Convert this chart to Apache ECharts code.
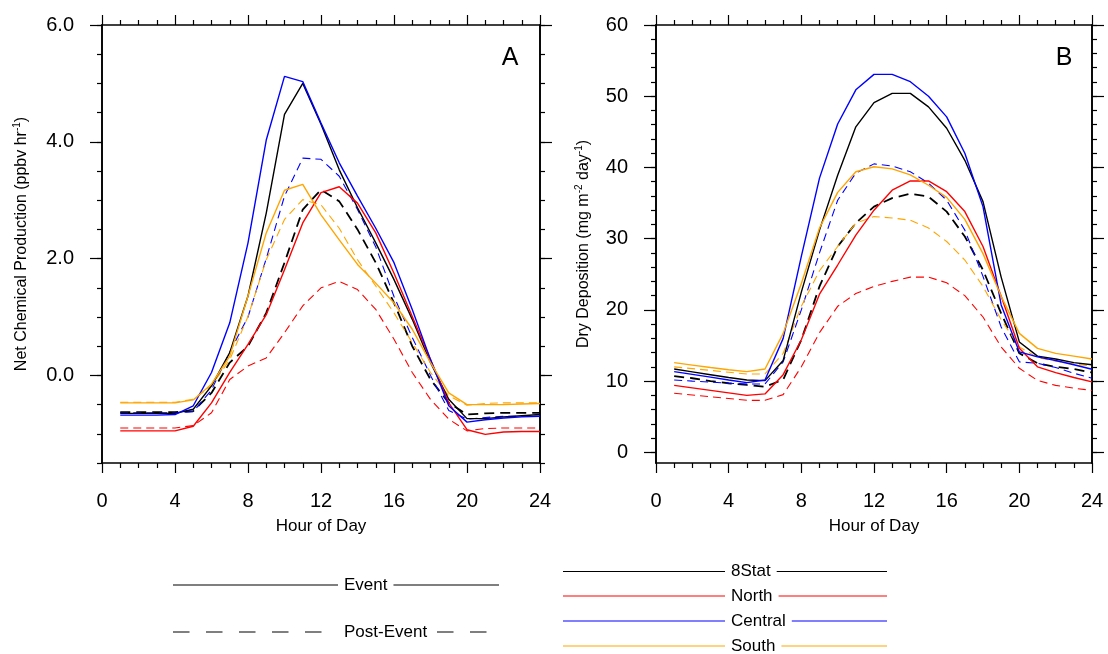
<!DOCTYPE html>
<html>
<head>
<meta charset="utf-8">
<script src="https://cdn.jsdelivr.net/npm/echarts@6/dist/echarts.min.js"></script>
<style>
html,body{margin:0;padding:0;background:#fff;}
#chart{width:1108px;height:654px;}
</style>
</head>
<body>
<div id="chart"></div>
<script>
// ---------------- DATA ----------------
const hours = [1,2,3,4,5,6,7,8,9,10,11,12,13,14,15,16,17,18,19,20,21,22,23,24];

// Panel A: Net Chemical Production (ppbv hr-1)
const a_8stat_event   = [-0.65,-0.65,-0.65,-0.65,-0.58,-0.18,0.39,1.36,2.78,4.47,5.00,4.30,3.52,2.87,2.27,1.64,0.96,0.22,-0.41,-0.74,-0.74,-0.71,-0.69,-0.67];
const a_north_event   = [-0.95,-0.95,-0.95,-0.95,-0.87,-0.47,0.05,0.53,1.04,1.81,2.61,3.13,3.23,2.95,2.44,1.75,1.01,0.27,-0.47,-0.93,-1.01,-0.97,-0.96,-0.96];
const a_central_event = [-0.68,-0.68,-0.68,-0.67,-0.52,0.05,0.90,2.27,4.03,5.12,5.03,4.32,3.64,3.07,2.52,1.93,1.13,0.27,-0.52,-0.80,-0.76,-0.73,-0.71,-0.70];
const a_south_event   = [-0.47,-0.47,-0.47,-0.47,-0.42,-0.15,0.33,1.36,2.44,3.17,3.27,2.75,2.32,1.90,1.58,1.24,0.79,0.22,-0.30,-0.50,-0.50,-0.50,-0.49,-0.48];
const a_8stat_post    = [-0.63,-0.63,-0.63,-0.63,-0.61,-0.30,0.22,0.50,1.07,1.93,2.84,3.18,2.98,2.50,1.93,1.24,0.50,-0.07,-0.47,-0.67,-0.65,-0.64,-0.64,-0.64];
const a_north_post    = [-0.90,-0.90,-0.90,-0.90,-0.86,-0.64,-0.07,0.16,0.30,0.73,1.19,1.50,1.61,1.47,1.13,0.62,0.05,-0.41,-0.75,-0.95,-0.91,-0.90,-0.90,-0.90];
const a_central_post  = [-0.64,-0.64,-0.64,-0.64,-0.62,-0.25,0.40,1.00,2.00,3.07,3.72,3.70,3.41,2.84,2.20,1.35,0.65,0.00,-0.60,-0.75,-0.72,-0.70,-0.70,-0.70];
const a_south_post    = [-0.46,-0.46,-0.46,-0.46,-0.41,-0.18,0.27,1.01,1.98,2.67,3.01,2.92,2.52,1.98,1.53,1.07,0.56,0.05,-0.35,-0.51,-0.48,-0.47,-0.47,-0.47];

// Panel B: Dry Deposition (mg m-2 day-1)
const b_8stat_event   = [11.7,11.3,10.9,10.5,10.16,10.07,12.9,22.5,31.2,38.9,45.7,49.1,50.4,50.4,48.5,45.5,41.0,35.2,24.6,15.5,13.5,13.1,12.6,12.3];
const b_north_event   = [9.4,9.05,8.7,8.35,8.0,8.2,10.9,15.8,22.2,26.3,30.5,34.0,36.8,38.1,38.1,36.6,33.8,28.9,21.9,14.6,12.0,11.2,10.5,9.9];
const b_central_event = [11.33,10.95,10.55,10.15,9.79,10.16,16.0,27.5,38.5,46.1,50.9,53.07,53.07,52.04,50.0,47.1,42.0,34.5,20.7,14.1,13.4,12.9,12.3,11.66];
const b_south_event   = [12.6,12.25,11.9,11.6,11.33,11.7,16.7,23.7,31.5,36.5,39.4,40.1,39.8,38.95,37.5,35.8,32.7,27.9,21.9,16.7,14.6,13.9,13.5,13.1];
const b_8stat_post    = [10.7,10.4,10.0,9.7,9.46,9.2,10.2,15.8,23.3,28.9,32.2,34.5,35.7,36.3,35.9,33.8,30.3,25.6,19.5,13.9,12.5,12.0,11.7,11.2];
const b_north_post    = [8.3,8.05,7.8,7.55,7.3,7.3,8.1,12.0,16.8,20.5,22.3,23.3,24.0,24.6,24.6,23.8,22.0,19.0,14.8,11.8,10.1,9.4,9.0,8.7];
const b_central_post  = [10.16,10.0,9.85,9.7,9.6,9.6,12.7,20.0,28.0,35.4,39.2,40.5,40.2,39.4,37.8,35.4,31.2,24.7,17.6,12.7,12.5,11.9,11.1,10.4];
const b_south_post    = [12.0,11.75,11.5,11.25,11.0,11.0,13.9,20.5,25.5,28.9,32.2,33.1,32.9,32.6,31.5,29.6,27.0,23.3,18.6,14.8,13.3,12.8,12.4,12.1];

// Tick values / labels
const xTicks = [0,4,8,12,16,20,24];
const aMajorTicks = [0,2,4,6];
const aMinorTicks = [-1.5,-1,-0.5,0,0.5,1,1.5,2,2.5,3,3.5,4,4.5,5,5.5,6];
const bMajorTicks = [0,10,20,30,40,50,60];
const bMinorTicks = [0,2,4,6,8,10,12,14,16,18,20,22,24,26,28,30,32,34,36,38,40,42,44,46,48,50,52,54,56,58,60];

const regions = ['8Stat','North','Central','South'];
const regionColors = ['#000000','#ff0000','#0000ff','#ffa500'];
const periods = ['Event','Post-Event'];

// ---------------- CHART ----------------
const FONT = 'Liberation Sans';
const chart = echarts.init(document.getElementById('chart'), null, {renderer:'canvas'});

function pairs(vals){ return hours.map((h,i)=>[h, vals[i]]); }

function xAx(grid, pos, withLabel){
  return {
    gridIndex: grid, type:'value', min:0, max:24, interval:4, position:pos,
    axisLine:{show:true, onZero:false, lineStyle:{color:'#000', width:1.6}},
    axisTick:{show:true, inside:false, length:10, lineStyle:{color:'#000', width:1.2}},
    minorTick:{show:true, splitNumber:4, length:5, lineStyle:{color:'#000', width:1.2}},
    axisLabel:{show:withLabel, fontSize:20, color:'#000', margin:28, fontFamily:FONT},
    splitLine:{show:false}, minorSplitLine:{show:false},
    name: withLabel ? 'Hour of Day' : '', nameLocation:'middle', nameGap:55,
    nameTextStyle:{fontSize:17, color:'#000', fontFamily:FONT}
  };
}
function yAx(grid, pos, min, max, ticks, len, labelVals, fmt, name, nameGap){
  const o = {
    gridIndex: grid, type:'value', min:min, max:max, position:pos,
    axisLine:{show:true, onZero:false, lineStyle:{color:'#000', width:1.6}},
    axisTick:{show:true, inside:false, length:len, customValues:ticks, lineStyle:{color:'#000', width:1.2}},
    axisLabel:{show:!!labelVals, fontSize:20, color:'#000', margin:28, fontFamily:FONT,
               formatter: fmt || (v=>v)},
    splitLine:{show:false}
  };
  if (labelVals) o.axisLabel.customValues = labelVals;
  if (name) {
    o.name = name; o.nameLocation='middle'; o.nameGap=nameGap; o.nameRotate=90;
    o.nameTextStyle = {fontSize:16, color:'#000', fontFamily:FONT, lineHeight:20,
      rich:{sup:{fontSize:10, fontFamily:FONT, color:'#000', verticalAlign:'top', lineHeight:12}}};
  }
  return o;
}

const fmtA = v => Number(v).toFixed(1);
const fmtB = v => String(Math.round(v));

const xAxis = [
  xAx(0,'bottom',true), xAx(0,'top',false),
  xAx(1,'bottom',true), xAx(1,'top',false)
];
const yAxis = [
  yAx(0,'left',-1.5,6,aMajorTicks,12,aMajorTicks,fmtA,'Net Chemical Production (ppbv hr{sup|-1})',70),
  yAx(0,'left',-1.5,6,aMinorTicks,5,null),
  yAx(0,'right',-1.5,6,aMajorTicks,12,null),
  yAx(0,'right',-1.5,6,aMinorTicks,5,null),
  yAx(1,'left',-1.5,60,bMajorTicks,12,bMajorTicks,fmtB,'Dry Deposition (mg m{sup|-2} day{sup|-1})',62),
  yAx(1,'left',-1.5,60,bMinorTicks,5,null),
  yAx(1,'right',-1.5,60,bMajorTicks,12,null),
  yAx(1,'right',-1.5,60,bMinorTicks,5,null)
];

function mkSeries(name, vals, colorIdx, dashed, xi, yi){
  const isBlack = colorIdx === 0;
  return {
    name:name, type:'line', xAxisIndex:xi, yAxisIndex:yi, data:pairs(vals),
    showSymbol:false, symbol:'none', silent:true, animation:false,
    lineStyle:{color:regionColors[colorIdx], width: dashed ? (isBlack?1.8:1.1) : 1.4,
               type: dashed ? (isBlack ? [10,6] : [8,5]) : 'solid'},
    z: dashed ? 3 : 4
  };
}

const aEvent = [a_8stat_event,a_north_event,a_central_event,a_south_event];
const aPost  = [a_8stat_post,a_north_post,a_central_post,a_south_post];
const bEvent = [b_8stat_event,b_north_event,b_central_event,b_south_event];
const bPost  = [b_8stat_post,b_north_post,b_central_post,b_south_post];

const series = [];
regions.forEach((r,i)=>{
  series.push(mkSeries('A '+r+' '+periods[1], aPost[i], i, true, 0, 0));
  series.push(mkSeries('B '+r+' '+periods[1], bPost[i], i, true, 2, 4));
});
regions.forEach((r,i)=>{
  series.push(mkSeries('A '+r+' '+periods[0], aEvent[i], i, false, 0, 0));
  series.push(mkSeries('B '+r+' '+periods[0], bEvent[i], i, false, 2, 4));
});

// Custom legend (NCL style)
const graphic = [];
function legText(t, x, y){
  return {type:'text', x:x, y:y, z:20,
    style:{text:t, fill:'#000', fontSize:17, fontFamily:FONT, align:'left', verticalAlign:'middle',
           backgroundColor:'#fff', padding:[0,6,0,6]}};
}
graphic.push({type:'line', z:10, shape:{x1:173,y1:585,x2:499,y2:585}, style:{stroke:'#7f7f7f', lineWidth:2}});
graphic.push(legText(periods[0], 338, 585));
graphic.push({type:'line', z:10, shape:{x1:173,y1:632,x2:487,y2:632}, style:{stroke:'#7f7f7f', lineWidth:2, lineDash:[16.5,16.5]}});
graphic.push(legText(periods[1], 338, 632));
const legY = [571.5,596,621,646];
regions.forEach((r,i)=>{
  graphic.push({type:'line', z:10, shape:{x1:563,y1:legY[i],x2:887,y2:legY[i]}, style:{stroke:regionColors[i], lineWidth:1.2}});
  graphic.push(legText(r, 725, legY[i]));
});
graphic.push({type:'text', x:510, y:58, z:20, style:{text:'A', fill:'#000', fontSize:25, fontFamily:FONT, align:'center', verticalAlign:'middle'}});
graphic.push({type:'text', x:1064, y:58, z:20, style:{text:'B', fill:'#000', fontSize:25, fontFamily:FONT, align:'center', verticalAlign:'middle'}});

chart.setOption({
  animation:false,
  backgroundColor:'#fff',
  textStyle:{fontFamily:FONT},
  grid:[
    {left:102, top:25, width:438, height:438, containLabel:false},
    {left:656, top:25, width:436, height:438, containLabel:false}
  ],
  xAxis:xAxis,
  yAxis:yAxis,
  series:series,
  graphic:graphic
});
</script>
</body>
</html>
